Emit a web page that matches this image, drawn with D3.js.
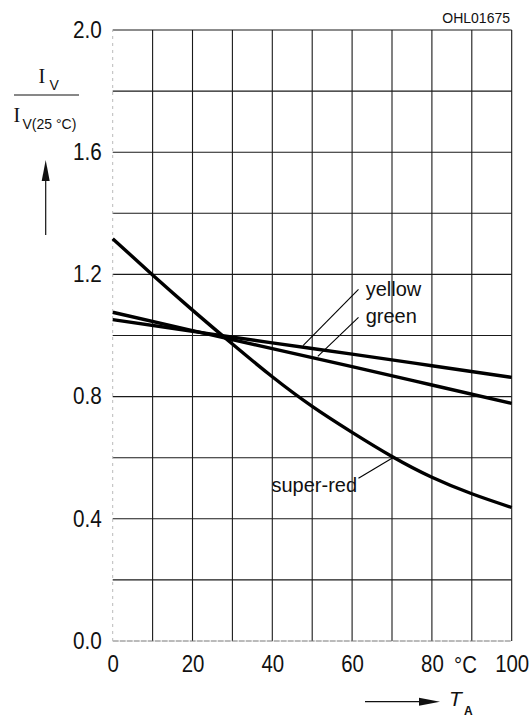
<!DOCTYPE html>
<html><head><meta charset="utf-8">
<script src="https://cdn.jsdelivr.net/npm/d3@7"></script>
<style>
html,body{margin:0;padding:0;background:#fff;}
svg{display:block;}
</style></head>
<body>
<svg id="chart" width="531" height="719"></svg>
<script>
// ---- data ----
const temperatures = [0, 10, 20, 30, 40, 50, 60, 70, 80, 90, 100];
const superRed = [1.317, 1.198, 1.083, 0.972, 0.865, 0.768, 0.683, 0.604, 0.536, 0.482, 0.437];
const yellowT = [0, 20, 40, 60, 80, 100];
const yellow = [1.052, 1.014, 0.976, 0.939, 0.901, 0.863];
const greenT = [0, 20, 40, 60, 80, 100];
const green = [1.076, 1.016, 0.957, 0.898, 0.838, 0.778];
const xTickValues = [0, 20, 40, 60, 80, 100];
const yTickValues = [0.0, 0.4, 0.8, 1.2, 1.6, 2.0];
const seriesNames = ["yellow", "green", "super-red"];
const chartCode = "OHL01675";

// ---- layout ----
const SANS = '"Liberation Sans",Arial,Helvetica,sans-serif';
const SERIF = '"Liberation Serif","Times New Roman",serif';
const svg = d3.select("#chart").style("font-family", SANS);
const x = d3.scaleLinear().domain([0, 100]).range([112.7, 511.7]);
const y = d3.scaleLinear().domain([0, 2.0]).range([641, 30]);

const grid = svg.append("g");
grid.selectAll("line.v").data(d3.range(10, 101, 10)).join("line")
  .attr("x1", d => x(d)).attr("x2", d => x(d))
  .attr("y1", y(0)).attr("y2", y(2.0))
  .attr("stroke", "#1a1a1a").attr("stroke-width", 1.1);
grid.selectAll("line.h").data(d3.range(0.2, 2.01, 0.2)).join("line")
  .attr("x1", x(0)).attr("x2", x(100))
  .attr("y1", d => y(d)).attr("y2", d => y(d))
  .attr("stroke", "#1a1a1a").attr("stroke-width", 1.1);
grid.append("line").attr("x1", x(0)).attr("x2", x(100)).attr("y1", y(0)).attr("y2", y(0))
  .attr("stroke", "#777").attr("stroke-width", 1).attr("stroke-dasharray", "6,1");
grid.append("line").attr("x1", x(0)).attr("x2", x(0)).attr("y1", y(0)).attr("y2", y(2))
  .attr("stroke", "#bbb").attr("stroke-width", 1).attr("stroke-dasharray", "3,4");

// axes (labels only)
const yAxis = svg.append("g").attr("transform", `translate(${x(0)},0)`)
  .call(d3.axisLeft(y).tickValues(yTickValues).tickFormat(d3.format(".1f")).tickSize(0).tickPadding(0));
yAxis.select(".domain").remove();
yAxis.selectAll("text").style("font-size", "23px").style("fill", "#111")
  .style("font-family", SANS)
  .attr("x", -11 / 0.9).attr("transform", "scale(0.9,1)");

const xAxis = svg.append("g").attr("transform", `translate(0,${y(0)})`)
  .call(d3.axisBottom(x).tickValues(xTickValues).tickFormat(d3.format("d")).tickSize(0).tickPadding(14));
xAxis.select(".domain").remove();
xAxis.selectAll("text").style("font-size", "24px").style("fill", "#111")
  .style("font-family", SANS)
  .attr("transform", "scale(0.85,1)");
svg.append("text").attr("transform", `translate(${x(88.4)},673) scale(0.85,1)`)
  .attr("text-anchor", "middle").style("font-size", "24px").style("fill", "#111").text("°C");

// curves
const lineSmooth = d3.line().x(d => x(d[0])).y(d => y(d[1])).curve(d3.curveNatural);
const curves = [
  temperatures.map((t, i) => [t, superRed[i]]),
  yellowT.map((t, i) => [t, yellow[i]]),
  greenT.map((t, i) => [t, green[i]])
];
svg.append("g").selectAll("path").data(curves).join("path")
  .attr("d", lineSmooth).attr("fill", "none").attr("stroke", "#000")
  .attr("stroke-width", 3.4);

// annotations (data units)
const notes = [
  {text: seriesNames[0], tx: 63.4, ty: 1.128, l: [[47.7, 0.967], [61.6, 1.151]]},
  {text: seriesNames[1], tx: 63.4, ty: 1.040, l: [[51.4, 0.932], [61.6, 1.059]]},
  {text: seriesNames[2], tx: 39.8, ty: 0.487, l: [[61.6, 0.533], [70.2, 0.600]]}
];
const ann = svg.append("g");
ann.selectAll("line").data(notes).join("line")
  .attr("x1", d => x(d.l[0][0])).attr("y1", d => y(d.l[0][1]))
  .attr("x2", d => x(d.l[1][0])).attr("y2", d => y(d.l[1][1]))
  .attr("stroke", "#000").attr("stroke-width", 1.1);
ann.selectAll("text").data(notes).join("text")
  .attr("x", d => x(d.tx)).attr("y", d => y(d.ty))
  .style("font-size", "20px").style("fill", "#111").text(d => d.text);

// code top-right
svg.append("text").attr("x", 510).attr("y", 23).attr("text-anchor", "end")
  .style("font-size", "14px").style("fill", "#111").text(chartCode);

// y-axis title: I_V / I_V(25 °C)
const yt = svg.append("g").style("fill", "#111");
yt.append("text").attr("x", 38.5).attr("y", 83).style("font-size", "20px")
  .style("font-family", SERIF).text("I");
yt.append("text").attr("x", 49.5).attr("y", 90).style("font-size", "14px").text("V");
yt.append("line").attr("x1", 14).attr("x2", 79).attr("y1", 95).attr("y2", 95)
  .attr("stroke", "#111").attr("stroke-width", 1);
yt.append("text").attr("x", 13.5).attr("y", 122).style("font-size", "20px")
  .style("font-family", SERIF).text("I");
yt.append("text").attr("x", 22.5).attr("y", 129).style("font-size", "14px").text("V(25 °C)");
yt.append("line").attr("x1", 45.7).attr("x2", 45.7).attr("y1", 235).attr("y2", 178)
  .attr("stroke", "#111").attr("stroke-width", 1.2);
yt.append("path").attr("d", "M45.7,160 L41.7,181 L49.7,181 Z").attr("fill", "#111");

// x-axis title: arrow T_A
const xt = svg.append("g").style("fill", "#111");
xt.append("line").attr("x1", 365).attr("x2", 422).attr("y1", 701.7).attr("y2", 701.7)
  .attr("stroke", "#111").attr("stroke-width", 1.2);
xt.append("path").attr("d", "M440,701.7 L419,697.7 L419,705.7 Z").attr("fill", "#111");
xt.append("text").attr("x", 449).attr("y", 706).style("font-size", "21px")
  .style("font-style", "italic").text("T");
xt.append("text").attr("x", 464).attr("y", 715).style("font-size", "12px")
  .style("font-weight", "bold").text("A");
</script>
</body></html>
